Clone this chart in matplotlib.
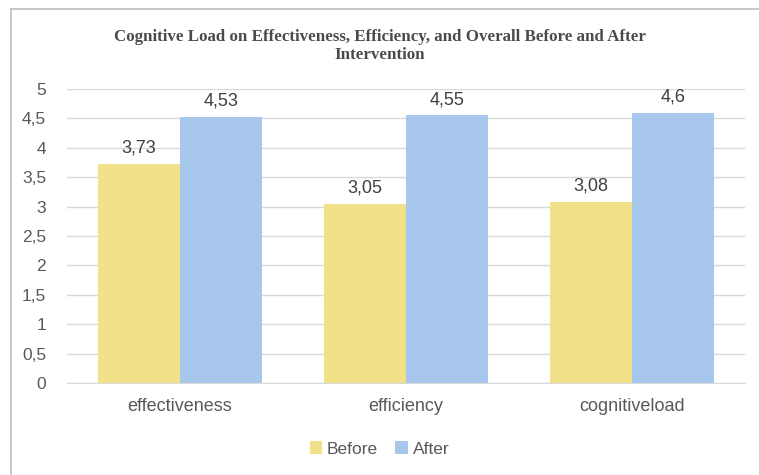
import matplotlib.pyplot as plt
from matplotlib.lines import Line2D
import numpy as np

categories = ['effectiveness', 'efficiency', 'cognitiveload']
before = [3.73, 3.05, 3.08]
after = [4.53, 4.55, 4.6]
yticks = [0, 0.5, 1, 1.5, 2, 2.5, 3, 3.5, 4, 4.5, 5]

yellow = '#F1E28A'
blue = '#A7C8EC'
grid = '#D9D9D9'
text_gray = '#595959'


def fmt(v):
    # comma decimals like the original
    s = ('%g' % v)
    return s.replace('.', ',')


fig = plt.figure(figsize=(7.59, 4.75), dpi=100)
ax = fig.add_axes([67 / 759, 1 - 383 / 475, (745 - 67) / 759, (383 - 89) / 475])

x = np.arange(len(categories))
w = 0.363
b1 = ax.bar(x - w / 2, before, w, color=yellow, label='Before', zorder=2)
b2 = ax.bar(x + w / 2, after, w, color=blue, label='After', zorder=2)

for bars, vals in [(b1, before), (b2, after)]:
    for rect, v in zip(bars, vals):
        ax.annotate(fmt(v), (rect.get_x() + rect.get_width() / 2, v),
                    xytext=(0, 5), textcoords='offset points',
                    ha='center', va='bottom', fontsize=13,
                    color='#404040', family='Liberation Sans')

ax.set_xlim(-0.5, 2.5)
ax.set_ylim(0, 5)
ax.set_yticks(yticks)
ax.set_yticklabels([fmt(t) for t in yticks])
ax.set_xticks(x)
ax.set_xticklabels(categories)
ax.yaxis.grid(True, color=grid, linewidth=1, zorder=0)
ax.set_axisbelow(True)
for s in ['top', 'right', 'left']:
    ax.spines[s].set_visible(False)
ax.spines['bottom'].set_color(grid)
ax.tick_params(axis='y', length=0, labelsize=12.5, labelcolor=text_gray, pad=15)
ax.tick_params(axis='x', length=0, labelsize=13, labelcolor=text_gray, pad=11)
for lab in ax.get_xticklabels() + ax.get_yticklabels():
    lab.set_family('Liberation Sans')

fig.text(0.5, 1 - 46 / 475, 'Cognitive Load on Effectiveness, Efficiency, and Overall Before and After\nIntervention',
         ha='center', va='center', fontsize=12.2, fontweight='bold',
         family='Liberation Serif', color='#4A4A4A', linespacing=1.1)

leg = fig.legend(loc='center', bbox_to_anchor=(0.5, 1 - 449 / 475), ncol=2,
                 frameon=False, handlelength=0.7, handleheight=0.7,
                 handletextpad=0.3, columnspacing=1.0,
                 prop={'family': 'Liberation Sans', 'size': 12.5})
for t in leg.get_texts():
    t.set_color(text_gray)

# chart frame (only the left and top edges are visible in the crop)
fig.add_artist(Line2D([11 / 759, 11 / 759], [0, 1 - 9 / 475], color='#BFBFBF', lw=1.2))
fig.add_artist(Line2D([11 / 759, 1], [1 - 9 / 475, 1 - 9 / 475], color='#BFBFBF', lw=1.2))

fig.savefig('out.png', dpi=100)
